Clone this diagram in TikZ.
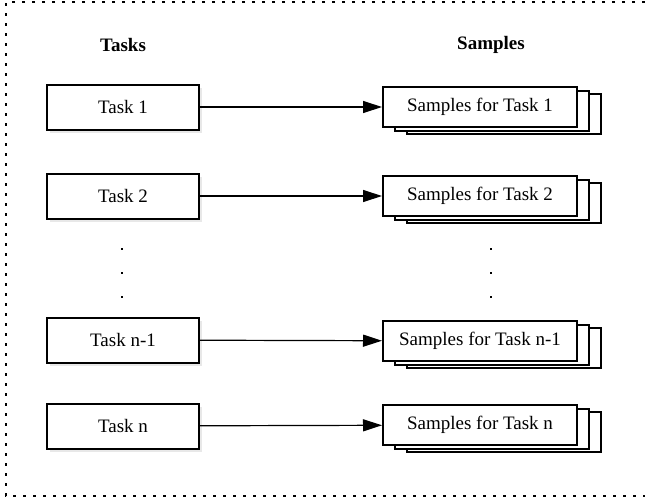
\documentclass[tikz,border=0pt]{standalone}
\usepackage{fontspec}
\setmainfont{Liberation Serif}
\usetikzlibrary{arrows.meta,shadows}
\begin{document}
\begin{tikzpicture}[x=1pt,y=-1pt,
  font=\fontsize{19}{22}\selectfont,
  border/.style={line width=2.4pt,dash pattern=on 3pt off 7pt},
  taskbox/.style={draw,line width=2pt,fill=white,minimum width=152pt,minimum height=45pt,inner sep=0pt,
    drop shadow={opacity=0.18,shadow xshift=3pt,shadow yshift=-3pt}},
  samplebox/.style={draw,line width=2pt,fill=white,minimum width=194pt,minimum height=40pt,inner sep=0pt,
    double copy shadow={shadow xshift=12pt,shadow yshift=-3.5pt}},
  head/.style={font=\fontsize{19}{22}\selectfont\bfseries},
  conn/.style={line width=1.2pt,-{Triangle[length=19pt,width=12pt]}},
  vdot/.style={fill=black,inner sep=0pt,minimum size=2.6pt,rectangle}
]
\useasboundingbox (0,0) rectangle (645,498);
\draw[border] (645,2) -- (6,2) -- (6,496) -- (645,496);

\node[head] (th) at (123,45) {Tasks};
\node[head] (sh) at (491,45) {Samples};

\node[taskbox] (t1) at (123,107) {Task 1};
\node[taskbox] (t2) at (123,196) {Task 2};
\node[taskbox] (t3) at (123,340) {Task n-1};
\node[taskbox] (t4) at (123,426) {Task n};

\node[samplebox] (s1) at (480,107) {Samples for Task 1};
\node[samplebox] (s2) at (480,196) {Samples for Task 2};
\node[samplebox] (s3) at (480,341) {Samples for Task n-1};
\node[samplebox] (s4) at (480,425) {Samples for Task n};

\draw[conn] (t1) -- (s1);
\draw[conn] (t2) -- (s2);
\draw[conn] (t3) -- (s3);
\draw[conn] (t4) -- (s4);

\node[vdot] (l1) at (122,249) {};
\node[vdot] (l2) at (122,273) {};
\node[vdot] (l3) at (122,297) {};
\node[vdot] (r1) at (491,249) {};
\node[vdot] (r2) at (491,273) {};
\node[vdot] (r3) at (491,297) {};
\end{tikzpicture}
\end{document}
